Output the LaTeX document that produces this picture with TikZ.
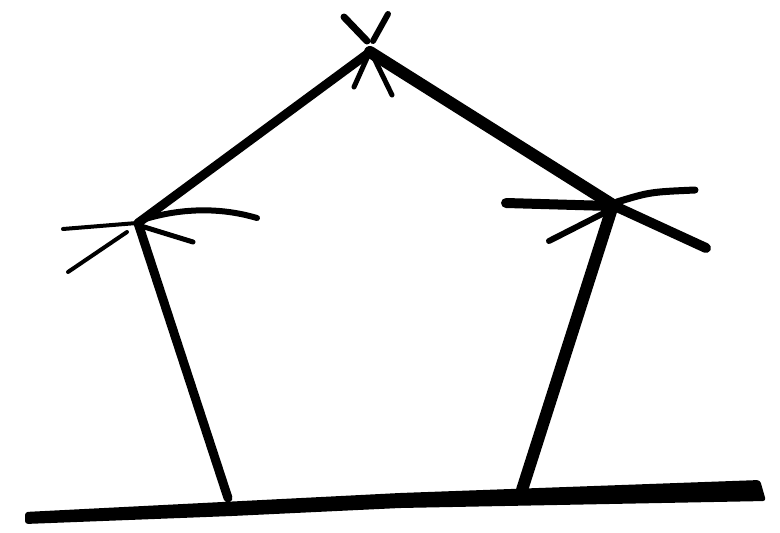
\documentclass[tikz,border=0pt]{standalone}
\begin{document}
\begin{tikzpicture}[x=1pt,y=-1pt,draw/.append style={black,line cap=round,line join=round}]
  \useasboundingbox (0,0) rectangle (780,533);
  % corners of the frame
  \coordinate (top) at (370,52);
  \coordinate (left) at (138,223);
  \coordinate (right) at (613,205);
  \coordinate (footl) at (228,498);
  \coordinate (footr) at (522,490);
  % ground
  \fill[black,rounded corners=3] (25,512)--(400,493)--(760,480)--(766,501)--(400,508)--(232,516)--(25,524)--cycle;
  % frame
  \draw[line width=9] (top) -- (left);
  \draw[line width=12] (top) -- (right);
  \draw[line width=9] (left) -- (footl);
  \draw[line width=12] (right) -- (footr);
  % top corner
  \draw[line width=7] (344,17) -- (367,41);
  \draw[line width=6] (388,14) -- (373,41);
  \draw[line width=5] (367,58) -- (354,87);
  \draw[line width=5] (374,58) -- (392,95);
  % left corner
  \draw[line width=4] (63,229) -- (100,226) -- (137,223);
  \draw[line width=6] (142,220) .. controls (190,205) and (230,210) .. (257,218);
  \draw[line width=5] (141,226) -- (193,242);
  \draw[line width=4] (127,232) -- (68,272);
  % right corner
  \draw[line width=10] (506,203) -- (610,206);
  \draw[line width=7] (617,202) .. controls (650,192) .. (695,190);
  \draw[line width=10] (619,208) -- (706,248);
  \draw[line width=6] (604,213) -- (549,241);
\end{tikzpicture}
\end{document}
